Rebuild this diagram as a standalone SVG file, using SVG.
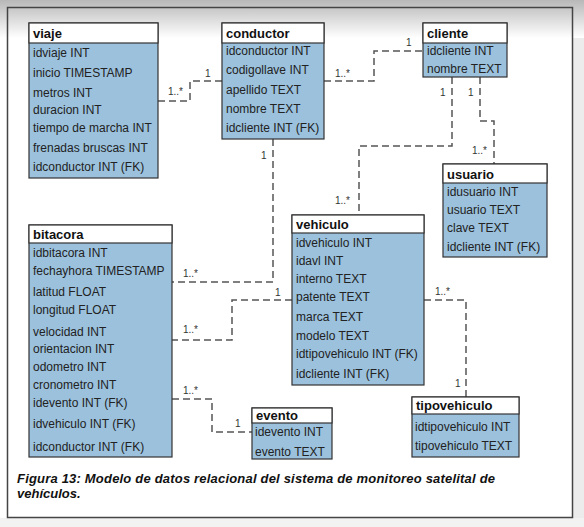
<svg xmlns="http://www.w3.org/2000/svg" width="584" height="527" viewBox="0 0 584 527">
<defs>
<linearGradient id="topg" x1="0" y1="0" x2="0" y2="1">
<stop offset="0" stop-color="#b8b8b8"/>
<stop offset="1" stop-color="#ffffff"/>
</linearGradient>
<style>
.body{fill:#9bc1dd;stroke:#333;stroke-width:1.2}
.head{fill:#fff;stroke:#333;stroke-width:1.2}
.t{font-family:"Liberation Sans",Arial,sans-serif;font-size:12px;fill:#222}
.h{font-family:"Liberation Sans",Arial,sans-serif;font-size:13px;font-weight:bold;fill:#111}
.c{fill:none;stroke:#555;stroke-width:1.5;stroke-dasharray:7 4}
.l{font-family:"Liberation Sans",Arial,sans-serif;font-size:10px;fill:#333}
.cap{font-family:"Liberation Sans",Arial,sans-serif;font-size:13px;font-weight:bold;font-style:italic;fill:#111}
</style>
</defs>
<rect x="0" y="0" width="584" height="527" fill="#ffffff"/>
<rect x="0" y="0" width="584" height="38" fill="url(#topg)"/>
<rect x="573" y="38" width="11" height="489" fill="#ececec"/>
<rect x="0" y="518" width="584" height="9" fill="#f2f2f2"/>
<rect x="7.5" y="7.5" width="565" height="510" fill="none" stroke="#444" stroke-width="1.5"/>

<g id="connectors">
<path class="c" d="M158,101 H190 V81 H222"/>
<path class="c" d="M324,81 H374 V51 H423"/>
<path class="c" d="M452,77 V146 H359 V215"/>
<path class="c" d="M480,77 V121 H494 V164"/>
<path class="c" d="M273,139 V282 H172"/>
<path class="c" d="M292,300 H232 V340 H172"/>
<path class="c" d="M172,399 H212 V432 H252"/>
<path class="c" d="M424,300 H466 V397"/>
<text class="l" x="168" y="95">1..*</text>
<text class="l" x="205" y="77">1</text>
<text class="l" x="335" y="77">1..*</text>
<text class="l" x="406" y="46">1</text>
<text class="l" x="440" y="96">1</text>
<text class="l" x="335" y="204">1..*</text>
<text class="l" x="468" y="96">1</text>
<text class="l" x="472" y="154">1..*</text>
<text class="l" x="261" y="159">1</text>
<text class="l" x="183" y="277">1..*</text>
<text class="l" x="275" y="296">1</text>
<text class="l" x="183" y="333">1..*</text>
<text class="l" x="183" y="394">1..*</text>
<text class="l" x="235" y="427">1</text>
<text class="l" x="435" y="295">1..*</text>
<text class="l" x="455" y="387">1</text>
</g>

<g id="viaje">
<rect class="body" x="29" y="23" width="129" height="155"/>
<rect class="head" x="29" y="23" width="129" height="20"/>
<text class="h" x="33" y="38">viaje</text>
<text class="t" x="33" y="57">idviaje INT</text>
<text class="t" x="33" y="77">inicio TIMESTAMP</text>
<text class="t" x="33" y="97">metros INT</text>
<text class="t" x="33" y="114">duracion INT</text>
<text class="t" x="33" y="132">tiempo de marcha INT</text>
<text class="t" x="33" y="152">frenadas bruscas INT</text>
<text class="t" x="33" y="171">idconductor INT (FK)</text>
</g>

<g id="conductor">
<rect class="body" x="222" y="23" width="102" height="116"/>
<rect class="head" x="222" y="23" width="102" height="20"/>
<text class="h" x="226" y="38">conductor</text>
<text class="t" x="226" y="55">idconductor INT</text>
<text class="t" x="226" y="74">codigollave INT</text>
<text class="t" x="226" y="94">apellido TEXT</text>
<text class="t" x="226" y="113">nombre TEXT</text>
<text class="t" x="226" y="132">idcliente INT (FK)</text>
</g>

<g id="cliente">
<rect class="body" x="423" y="23" width="84" height="54"/>
<rect class="head" x="423" y="23" width="84" height="20"/>
<text class="h" x="427" y="38">cliente</text>
<text class="t" x="427" y="55">idcliente INT</text>
<text class="t" x="427" y="73">nombre TEXT</text>
</g>

<g id="usuario">
<rect class="body" x="443" y="164" width="104" height="93"/>
<rect class="head" x="443" y="164" width="104" height="19"/>
<text class="h" x="447" y="179">usuario</text>
<text class="t" x="447" y="196">idusuario INT</text>
<text class="t" x="447" y="214">usuario TEXT</text>
<text class="t" x="447" y="232">clave TEXT</text>
<text class="t" x="447" y="251">idcliente INT (FK)</text>
</g>

<g id="vehiculo">
<rect class="body" x="292" y="215" width="132" height="170"/>
<rect class="head" x="292" y="215" width="132" height="18"/>
<text class="h" x="296" y="229">vehiculo</text>
<text class="t" x="296" y="247">idvehiculo INT</text>
<text class="t" x="296" y="265">idavl INT</text>
<text class="t" x="296" y="283">interno TEXT</text>
<text class="t" x="296" y="301">patente TEXT</text>
<text class="t" x="296" y="321">marca TEXT</text>
<text class="t" x="296" y="340">modelo TEXT</text>
<text class="t" x="296" y="358">idtipovehiculo INT (FK)</text>
<text class="t" x="296" y="378">idcliente INT (FK)</text>
</g>

<g id="tipovehiculo">
<rect class="body" x="412" y="397" width="107" height="60"/>
<rect class="head" x="412" y="397" width="107" height="17"/>
<text class="h" x="416" y="410">tipovehiculo</text>
<text class="t" x="415" y="431">idtipovehiculo INT</text>
<text class="t" x="415" y="450">tipovehiculo TEXT</text>
</g>

<g id="bitacora">
<rect class="body" x="29" y="225" width="143" height="232"/>
<rect class="head" x="29" y="225" width="143" height="18"/>
<text class="h" x="33" y="239">bitacora</text>
<text class="t" x="33" y="257">idbitacora INT</text>
<text class="t" x="33" y="275">fechayhora TIMESTAMP</text>
<text class="t" x="33" y="296">latitud FLOAT</text>
<text class="t" x="33" y="314">longitud FLOAT</text>
<text class="t" x="33" y="336">velocidad INT</text>
<text class="t" x="33" y="353">orientacion INT</text>
<text class="t" x="33" y="371">odometro INT</text>
<text class="t" x="33" y="389">cronometro INT</text>
<text class="t" x="33" y="407">idevento INT (FK)</text>
<text class="t" x="33" y="428">idvehiculo INT (FK)</text>
<text class="t" x="33" y="451">idconductor INT (FK)</text>
</g>

<g id="evento">
<rect class="body" x="252" y="408" width="80" height="51"/>
<rect class="head" x="252" y="408" width="80" height="15"/>
<text class="h" x="256" y="420">evento</text>
<text class="t" x="255" y="436">idevento INT</text>
<text class="t" x="255" y="456">evento TEXT</text>
</g>

<g id="caption">
<text class="cap" x="17" y="483" textLength="478" lengthAdjust="spacing">Figura 13: Modelo de datos relacional del sistema de monitoreo satelital de</text>
<text class="cap" x="17" y="498">vehículos.</text>
</g>
</svg>
